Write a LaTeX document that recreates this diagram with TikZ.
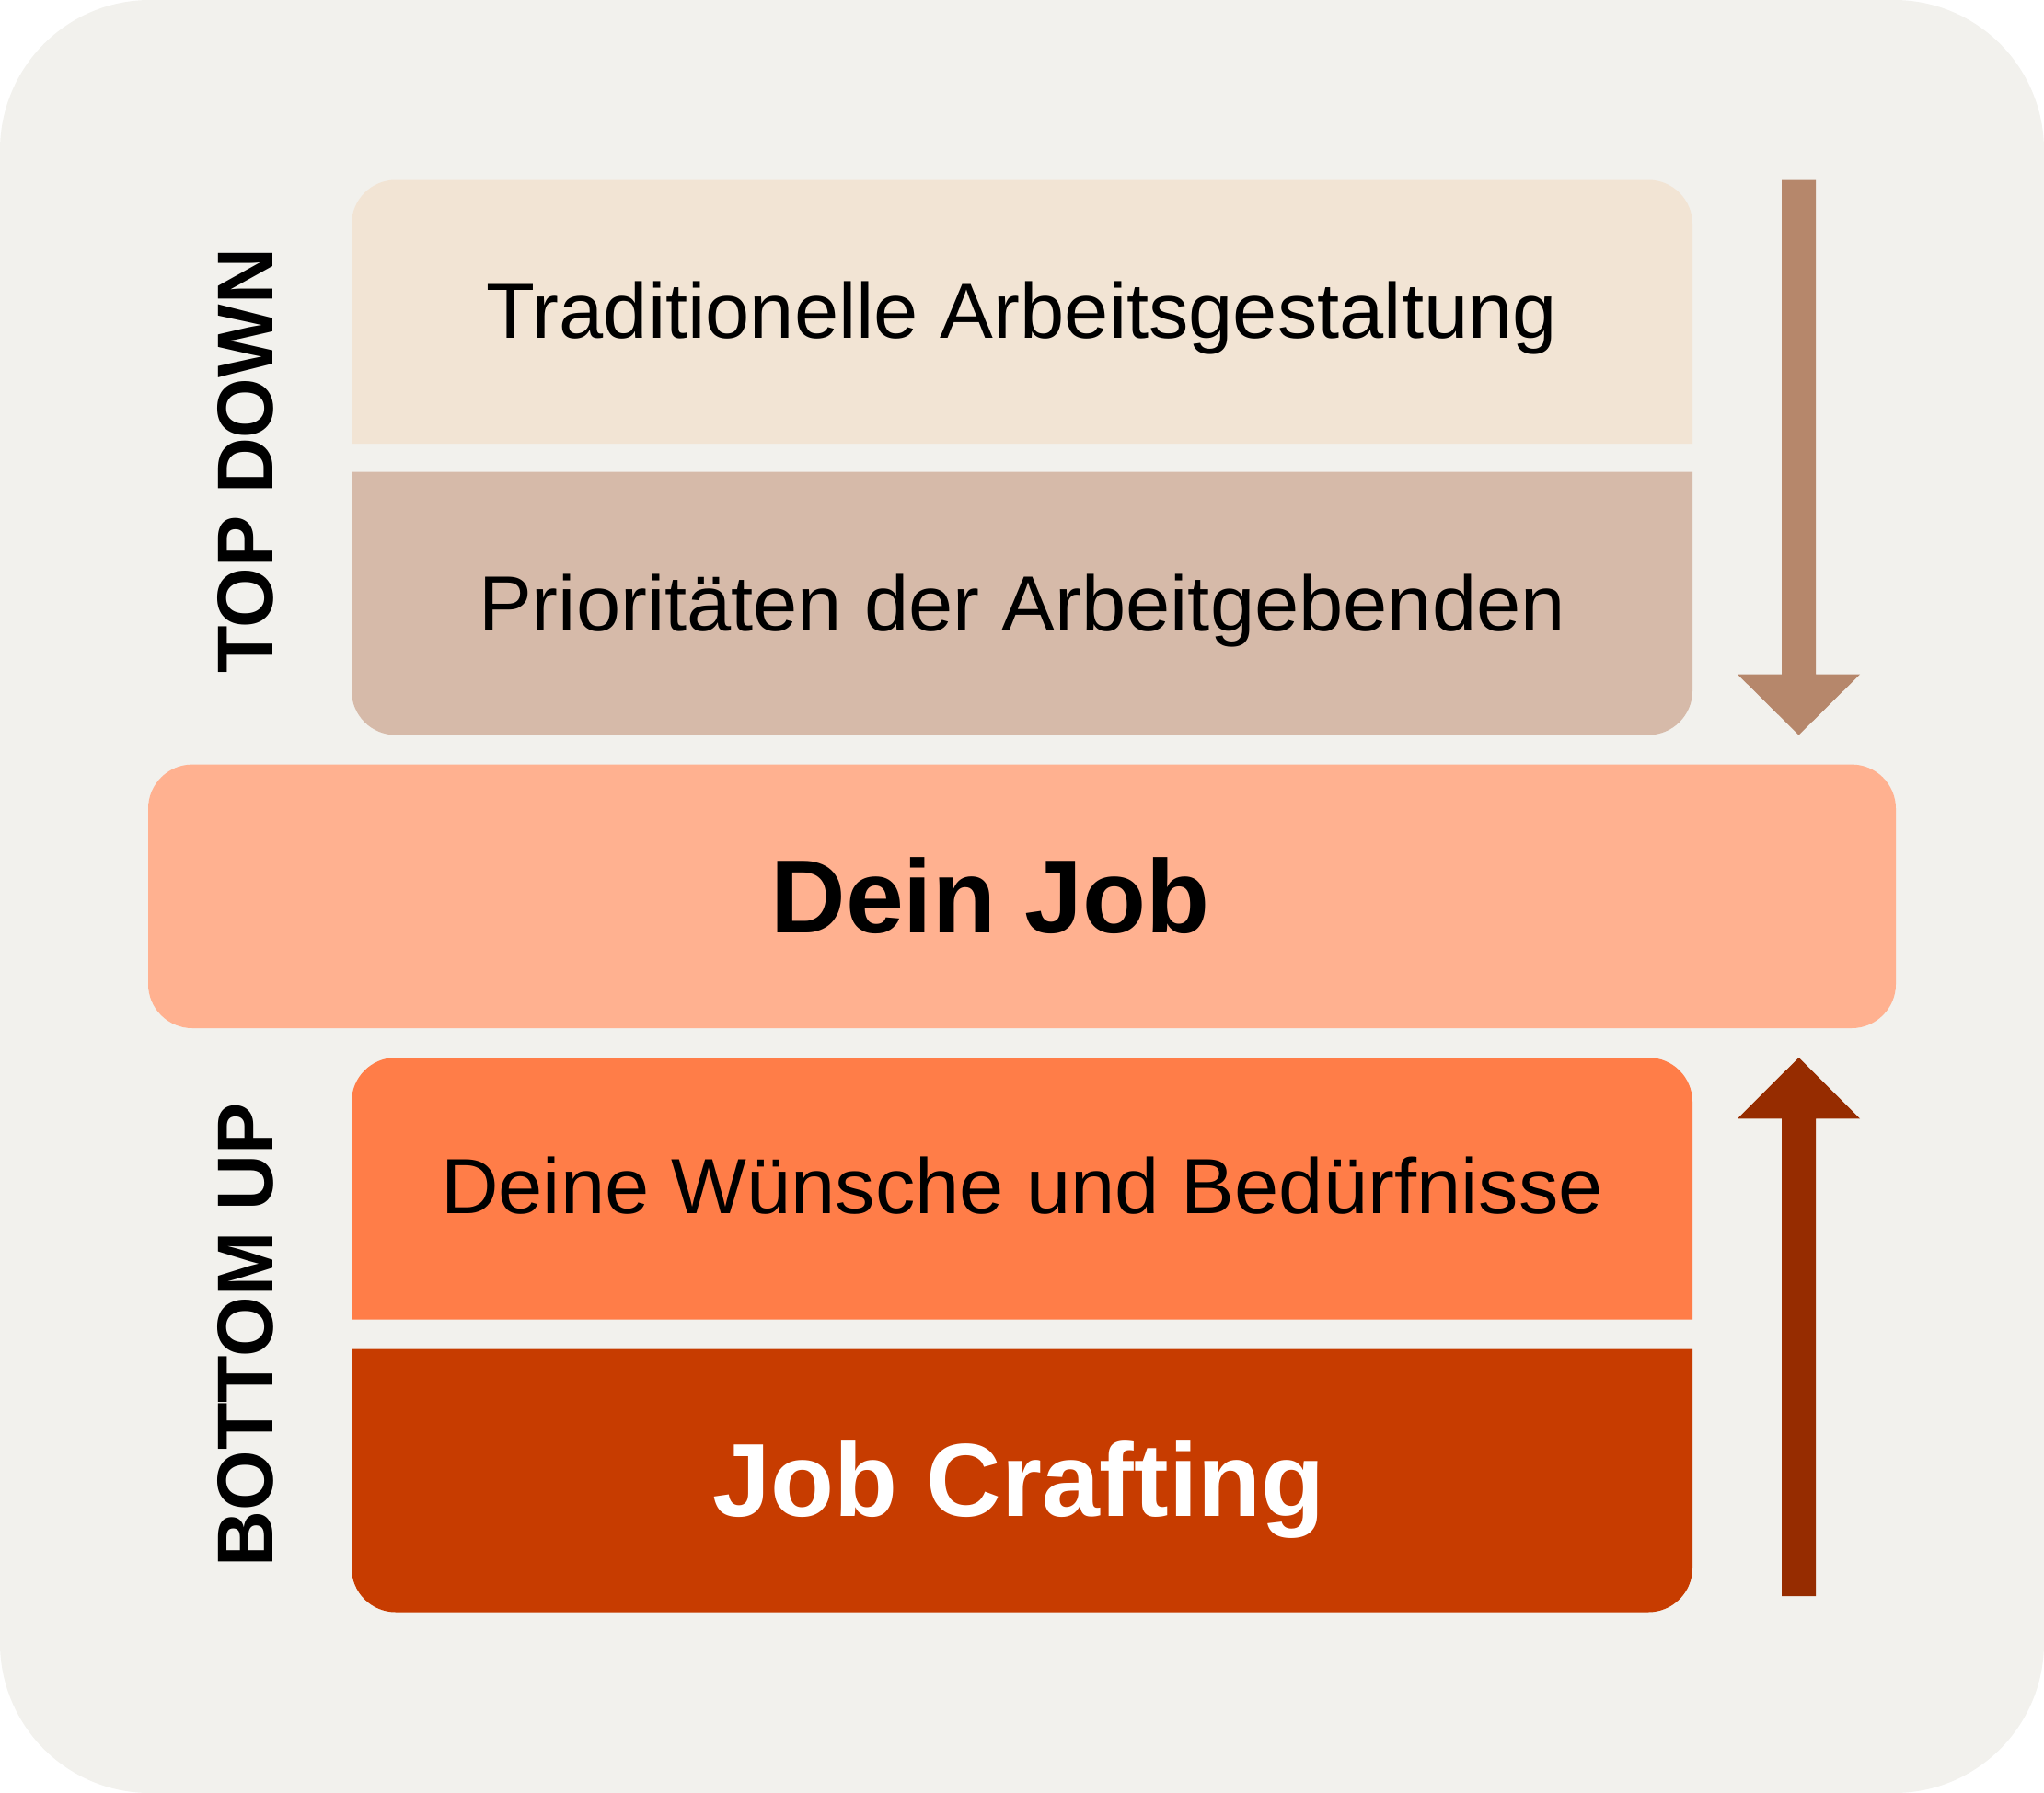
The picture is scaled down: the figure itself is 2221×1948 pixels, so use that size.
\documentclass[tikz,border=0pt]{standalone}
\usepackage{fontspec}
\setmainfont{Liberation Sans}
\newfontfamily\boxfont[FakeStretch=1.02]{Liberation Sans}
\newfontfamily\sidefont[FakeStretch=0.98]{Liberation Sans}

\definecolor{paper}{HTML}{F2F1ED}
\definecolor{tradition}{HTML}{F2E4D4}
\definecolor{employer}{HTML}{D6BAA9}
\definecolor{yourjob}{HTML}{FFB190}
\definecolor{wishes}{HTML}{FF7D48}
\definecolor{crafting}{HTML}{C73C00}
\definecolor{downarrow}{HTML}{B6876B}
\definecolor{uparrow}{HTML}{962C00}

\begin{document}
\begin{tikzpicture}[x=1pt, y=-1pt,
    boxtext/.style={anchor=base, font=\boxfont\fontsize{85}{100}\selectfont},
    bigtext/.style={anchor=base, font=\fontsize{113}{130}\selectfont\bfseries},
    sidetext/.style={anchor=base, rotate=90, font=\sidefont\fontsize{86}{100}\selectfont\bfseries}]

    \useasboundingbox (0, 0) rectangle (2221, 1948);
    \fill[paper, rounded corners=163pt] (0, 0) rectangle (2221, 1948);

    % top down
    \fill[tradition] (382, 482) [rounded corners=48pt] -- (382, 195.5) -- (1839, 195.5) [sharp corners] -- (1839, 482) -- cycle;
    \fill[employer] (382, 512.6) [rounded corners=48pt] -- (382, 798.5) -- (1839, 798.5) [sharp corners] -- (1839, 512.6) -- cycle;
    \node[boxtext] (tradition) at (1110.5, 367.7) {Traditionelle Arbeitsgestaltung};
    \node[boxtext] (employer) at (1110.5, 685) {Prioritäten der Arbeitgebenden};

    % middle
    \fill[yourjob, rounded corners=48pt] (161, 830.6) rectangle (2060, 1117);
    \node[bigtext] (yourjob) at (1076, 1013.7) {Dein Job};

    % bottom up
    \fill[wishes] (382, 1433.5) [rounded corners=48pt] -- (382, 1149) -- (1839, 1149) [sharp corners] -- (1839, 1433.5) -- cycle;
    \fill[crafting] (382, 1465.7) [rounded corners=48pt] -- (382, 1751.5) -- (1839, 1751.5) [sharp corners] -- (1839, 1465.7) -- cycle;
    \node[boxtext] (wishes) at (1110.5, 1318.8) {Deine Wünsche und Bedürfnisse};
    \node[bigtext, text=white] (crafting) at (1107, 1647.8) {Job Crafting};

    % side labels
    \node[sidetext] (topdown) at (296, 501) {TOP DOWN};
    \node[sidetext] (bottomup) at (296, 1450) {BOTTOM UP};

    % arrows
    \fill[downarrow] (1936, 195.5) -- (1973, 195.5) -- (1973, 732.6) -- (2021, 732.6)
        -- (1954.5, 798.6) -- (1888, 732.6) -- (1936, 732.6) -- cycle;
    \fill[uparrow] (1936, 1734) -- (1973, 1734) -- (1973, 1215.3) -- (2021, 1215.3)
        -- (1954.5, 1149) -- (1888, 1215.3) -- (1936, 1215.3) -- cycle;
\end{tikzpicture}
\end{document}
